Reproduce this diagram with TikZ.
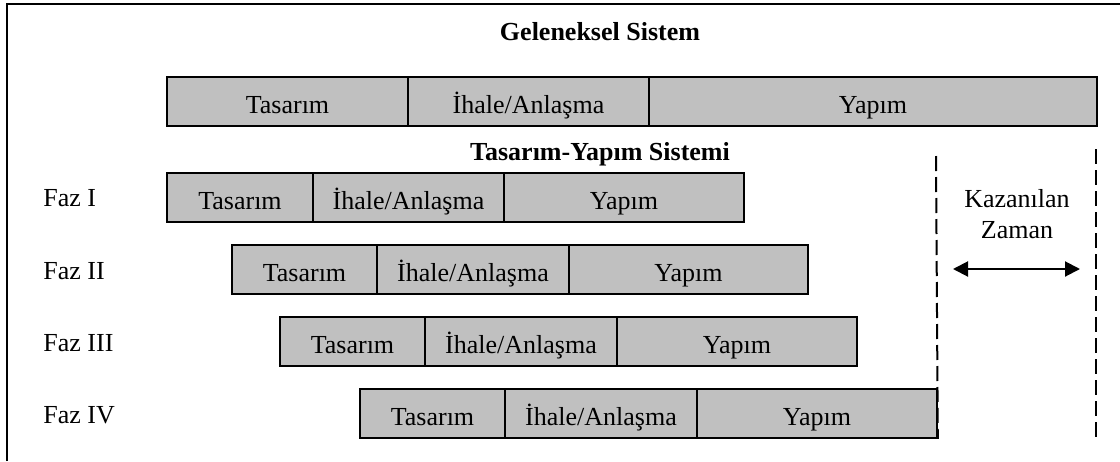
\documentclass[tikz,border=0pt]{standalone}
\usepackage{fontspec}
\setmainfont{Liberation Serif}
\usetikzlibrary{arrows.meta}
\definecolor{barfill}{HTML}{C0C0C0}
\newcommand\segnode[5]{%
  \node[segbox, minimum width={(#3-#2)*0.5pt}] (#1) at ({(#2+#3)/2},{#4+24.5}) {#5};}
\begin{document}
\begin{tikzpicture}[x=0.5pt,y=-0.5pt,
  every node/.style={font=\fontsize{13}{15.6}\selectfont},
  segbox/.style={draw=black, fill=barfill, line width=0.8pt, minimum height=24.5pt,
    inner sep=0pt, text height=12pt, text depth=0pt},
  titlelbl/.style={anchor=base, font=\fontsize{13}{15.6}\selectfont\bfseries},
  fazlbl/.style={anchor=base west, inner sep=0pt},
  plainlbl/.style={anchor=base},
  guide/.style={line width=1pt, dash pattern=on 7.5pt off 3pt},
  frame/.style={line width=1pt},
  gain/.style={line width=1pt, {Triangle[length=7.5pt,width=7.5pt]}-{Triangle[length=7.5pt,width=7.5pt]}}
]
\useasboundingbox (0,0) rectangle (1120,461);
% frame (top and left edges)
\draw[frame] (7,461) -- (7,4) -- (1120,4);

% Geleneksel Sistem
\node[titlelbl] (t1) at (600,40) {Geleneksel Sistem};
\segnode{g1}{167}{408}{77}{Tasarım}
\segnode{g2}{408}{649}{77}{İhale/Anlaşma}
\segnode{g3}{649}{1097}{77}{Yapım}

% Tasarim-Yapim Sistemi
\node[titlelbl] (t2) at (600,160) {Tasarım-Yapım Sistemi};

\node[fazlbl] (l1) at (43,206) {Faz I};
\segnode{a1}{167}{313}{173}{Tasarım}
\segnode{a2}{313}{504}{173}{İhale/Anlaşma}
\segnode{a3}{504}{744}{173}{Yapım}

\node[fazlbl] (l2) at (43,279) {Faz II};
\segnode{b1}{232}{377}{245}{Tasarım}
\segnode{b2}{377}{569}{245}{İhale/Anlaşma}
\segnode{b3}{569}{808}{245}{Yapım}

\node[fazlbl] (l3) at (43,351) {Faz III};
\segnode{c1}{280}{425}{317}{Tasarım}
\segnode{c2}{425}{617}{317}{İhale/Anlaşma}
\segnode{c3}{617}{857}{317}{Yapım}

\node[fazlbl] (l4) at (43,423) {Faz IV};
\segnode{d1}{360}{505}{389}{Tasarım}
\segnode{d2}{505}{697}{389}{İhale/Anlaşma}
\segnode{d3}{697}{937}{389}{Yapım}

% dashed guides
\coordinate (gl1) at (936,156);
\coordinate (gl2) at (1096,149);
\coordinate (gl2b) at (1096,437);
\draw[guide] (gl1) -- (d3.south east);
\draw[guide] (gl2) -- (gl2b);

% Kazanilan Zaman
\node[plainlbl] (k1) at (1017,207) {Kazanılan};
\node[plainlbl] (k2) at (1017,238) {Zaman};
\coordinate (ar1) at (953,269);
\coordinate (ar2) at (1080,269);
\draw[gain] (ar1) -- (ar2);
\end{tikzpicture}
\end{document}
